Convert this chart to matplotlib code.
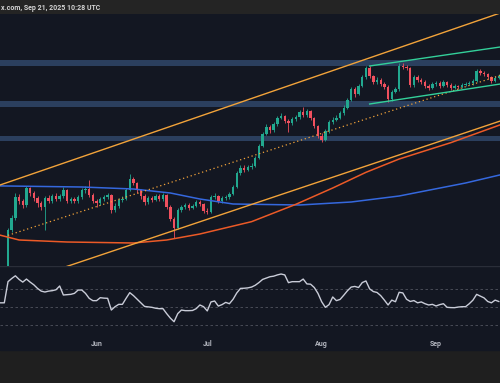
import numpy as np
import pandas as pd
import matplotlib
matplotlib.use('Agg')
import matplotlib.pyplot as plt
import matplotlib.dates as mdates
from matplotlib.patches import Rectangle

# daily candles, first two sit below the visible range
dates = pd.date_range('2025-05-06', periods=136, freq='D')
first_open = 1790
closes = [1800, 1815,
          2450, 2630, 2945, 2885, 2825, 3080, 3005, 2930, 2855, 2795,
          2930, 2885, 2960, 2915, 2960, 3050, 2885, 2915, 2885, 2945,
          3050, 3065, 2975, 2885, 2855, 2915, 2945, 2975, 2750, 2810,
          2900, 2915, 3050, 3215, 3155, 3050, 2960, 2870, 2930, 2900,
          2960, 2915, 2975, 2795, 2615, 2480, 2750, 2795, 2825, 2780,
          2810, 2870, 2840, 2735, 2720, 2945, 2960, 2885, 2930, 2945,
          2990, 3095, 3305, 3380, 3350, 3395, 3410, 3530, 3710, 3890,
          3995, 3950, 4040, 4130, 4160, 4085, 4055, 4115, 4145, 4220,
          4175, 4235, 4130, 4010, 3860, 3800, 3935, 4070, 4100, 4130,
          4205, 4280, 4400, 4565, 4490, 4610, 4745, 4880, 4760, 4670,
          4700, 4640, 4595, 4415, 4520, 4565, 4910, 4895, 4880, 4625,
          4745, 4700, 4670, 4610, 4580, 4640, 4655, 4610, 4670, 4625,
          4580, 4610, 4595, 4625, 4640, 4655, 4685, 4835, 4805, 4790,
          4745, 4685, 4730, 4760]
highs = [1830, 1840,
         2480, 2680, 3005, 2990, 2920, 3110, 3100, 3040, 2960, 2890,
         2960, 2980, 2990, 3000, 2990, 3090, 3070, 2950, 2940, 2980,
         3080, 3110, 3200, 3000, 2920, 2950, 2980, 3010, 2990, 2850,
         2930, 2960, 3080, 3290, 3240, 3170, 3070, 2990, 2960, 2960,
         2990, 2990, 3000, 2990, 2820, 2640, 2780, 2830, 2860, 2850,
         2840, 2900, 2900, 2860, 2780, 2980, 3000, 2980, 2960, 2980,
         3020, 3120, 3340, 3420, 3420, 3430, 3450, 3560, 3740, 3920,
         4040, 4030, 4070, 4160, 4200, 4180, 4110, 4140, 4180, 4250,
         4300, 4270, 4250, 4150, 4030, 3900, 3960, 4100, 4140, 4170,
         4240, 4320, 4430, 4600, 4590, 4640, 4780, 4910, 4910, 4780,
         4740, 4730, 4670, 4620, 4550, 4600, 4955, 4950, 4930, 4900,
         4780, 4770, 4730, 4700, 4640, 4670, 4690, 4680, 4700, 4690,
         4650, 4640, 4630, 4650, 4670, 4680, 4710, 4870, 4860, 4830,
         4810, 4760, 4760, 4790]
lows = [1770, 1790,
        1800, 2420, 2600, 2840, 2780, 2800, 2960, 2880, 2790, 2750,
        2450, 2850, 2860, 2880, 2890, 2930, 2850, 2860, 2850, 2860,
        2920, 3010, 2950, 2850, 2800, 2830, 2890, 2910, 2700, 2720,
        2780, 2870, 2900, 3030, 3120, 3000, 2920, 2830, 2840, 2870,
        2880, 2880, 2890, 2760, 2580, 2330, 2460, 2720, 2770, 2750,
        2760, 2790, 2810, 2700, 2690, 2700, 2920, 2860, 2860, 2900,
        2920, 2970, 3080, 3280, 3320, 3330, 3370, 3390, 3510, 3690,
        3870, 3900, 3920, 4010, 4110, 4050, 3920, 4030, 4090, 4120,
        4150, 4150, 4100, 3980, 3830, 3770, 3780, 3910, 4040, 4080,
        4110, 4180, 4260, 4380, 4450, 4470, 4590, 4720, 4730, 4640,
        4640, 4610, 4560, 4370, 4390, 4500, 4540, 4860, 4850, 4590,
        4600, 4670, 4640, 4580, 4550, 4560, 4610, 4580, 4590, 4600,
        4550, 4560, 4570, 4580, 4610, 4620, 4630, 4670, 4780, 4760,
        4720, 4660, 4670, 4710]
rsi = [55, 55,
       78.5, 82, 85, 81, 78, 81.4, 78, 75, 71, 68,
       67, 68, 68.5, 69.5, 73.7, 63.7, 64, 64.4, 65.5, 69.2,
       69.2, 65.5, 60, 57.4, 57.4, 60.7, 60.2, 60, 47, 50.7,
       53.3, 53.3, 60, 66.3, 63, 59, 55, 51, 50.5, 50,
       49, 48.5, 48.5, 43, 38, 34, 43, 47, 46.3, 46.3,
       46.5, 48.5, 52.6, 50.7, 46, 56, 57, 51.4, 53, 55.5,
       54, 59, 66, 71, 71.2, 71.6, 72.5, 74.5, 77.5, 81,
       82.5, 84, 84.6, 86, 87, 86, 77.4, 78.5, 78.5, 78.5,
       81.4, 76, 75.7, 72, 65.5, 56.2, 50, 53, 61.5, 57.4,
       58.8, 63.5, 68.5, 72.5, 73.2, 72, 77.5, 79.3, 70.5, 67.5,
       66.5, 63, 58, 52.6, 58, 56.2, 66.7, 66, 59, 56.5,
       57.5, 55, 56, 54, 52.6, 53.3, 51.5, 53, 54, 50,
       49.7, 49.6, 50.3, 50.7, 50.7, 54, 58, 64.4, 62.5, 60.5,
       56.5, 55, 58, 56.5]

ma_slow_dates = ['2025-05-05', '2025-05-28', '2025-06-11', '2025-06-21', '2025-06-29', '2025-07-08',
                 '2025-07-26', '2025-08-09', '2025-08-22', '2025-09-09', '2025-09-19']
ma_slow = [3112, 3095, 3065, 3005, 2915, 2840, 2825, 2870, 2960, 3155, 3285]
ma_fast_dates = ['2025-05-05', '2025-05-11', '2025-05-24', '2025-06-11', '2025-06-20', '2025-06-29', '2025-07-13',
                 '2025-07-25', '2025-08-04', '2025-08-13', '2025-08-22', '2025-09-05', '2025-09-19']
ma_fast = [2385, 2300, 2270, 2255, 2300, 2390, 2575, 2835, 3080, 3315, 3515, 3760, 4040]

# drawn lines (start, end)
channel_dates = ['2025-05-05', '2025-09-19']
channel_top = [3109, 5717]
channel_bottom = [1552, 4096]
mid_dates = ['2025-05-08', '2025-09-19']
channel_mid = [2370, 4780]
wedge_dates = ['2025-08-14', '2025-09-19']
wedge_top = [4910, 5200]
wedge_bottom = [4340, 4645]

zones = [(4910, 5000), (4295, 4385), (3785, 3860)]
rsi_levels = [70, 50, 30]

bg = '#131722'
up_col = '#22a88f'
down_col = '#f0505e'

fig = plt.figure(figsize=(5, 3.83), dpi=100, facecolor='#1f1f1f')
fig.patches.append(Rectangle((0, 33 / 383), 1, 336 / 383, transform=fig.transFigure,
                             color=bg, zorder=-10))
fig.patches.append(Rectangle((0, 1 - 14 / 383), 1, 14 / 383, transform=fig.transFigure,
                             color='#242424', zorder=-10))
fig.text(0.002, 1 - 8 / 383, 'x.com, Sep 21, 2025 10:28 UTC', ha='left', va='center',
         fontsize=5, color='#d3d3d3', family='Roboto', weight='bold')

ax = fig.add_axes([0, 1 - 266 / 383, 1, 252 / 383])
ax2 = fig.add_axes([0, 33 / 383, 1, 84 / 383], sharex=ax)
for a in (ax, ax2):
    a.set_facecolor(bg)
    for s in a.spines.values():
        s.set_visible(False)
    a.set_yticks([])

x = mdates.date2num(dates)
opens = [first_open] + closes[:-1]
o = np.array(opens)
c = np.array(closes)
cols = [up_col if cc >= oo else down_col for oo, cc in zip(o, c)]

for lo, hi in zones:
    ax.axhspan(lo, hi, color='#2b3f5e', lw=0, zorder=1)

ax.vlines(x, lows, highs, colors=cols, lw=0.6, zorder=3)
ax.bar(x, np.maximum(np.abs(c - o), 12), bottom=np.minimum(o, c), width=0.65,
       color=cols, lw=0, zorder=4)

ax.plot(mdates.datestr2num(ma_slow_dates), ma_slow, color='#3568de', lw=1.1, zorder=5)
ax.plot(mdates.datestr2num(ma_fast_dates), ma_fast, color='#ec5a27', lw=1.1, zorder=5)
cd = mdates.datestr2num(channel_dates)
ax.plot(cd, channel_top, color='#f2a33a', lw=1.0, zorder=6)
ax.plot(cd, channel_bottom, color='#f2a33a', lw=1.0, zorder=6)
ax.plot(mdates.datestr2num(mid_dates), channel_mid, color='#f2a33a', lw=0.9,
        ls=(0, (1, 2.2)), zorder=6)
wd = mdates.datestr2num(wedge_dates)
ax.plot(wd, wedge_top, color='#33d09a', lw=1.0, zorder=6)
ax.plot(wd, wedge_bottom, color='#33d09a', lw=1.0, zorder=6)

ax.set_ylim(1910, 5690)
ax.set_xlim(x[0] - 0.17, x[-1] + 0.33)
ax.tick_params(axis='x', bottom=False, labelbottom=False)

for lvl in rsi_levels:
    ax2.axhline(lvl, color='#50535e', lw=0.6, ls=(0, (3, 3)), zorder=1)
ax2.plot(x, rsi, color='#c9ccd8', lw=1.0, zorder=3)
ax2.set_ylim(2.6, 95.9)
ax2.axhline(95.9, color='#2a2e39', lw=1.0)
ax2.xaxis.set_major_locator(mdates.MonthLocator())
ax2.xaxis.set_major_formatter(mdates.DateFormatter('%b'))
ax2.tick_params(axis='x', length=0, pad=-7, labelsize=5, labelcolor='#b2b5be')
for t in ax2.get_xticklabels():
    t.set_family('Roboto')
    t.set_weight('bold')

fig.savefig('out.png', dpi=100, facecolor=fig.get_facecolor())
